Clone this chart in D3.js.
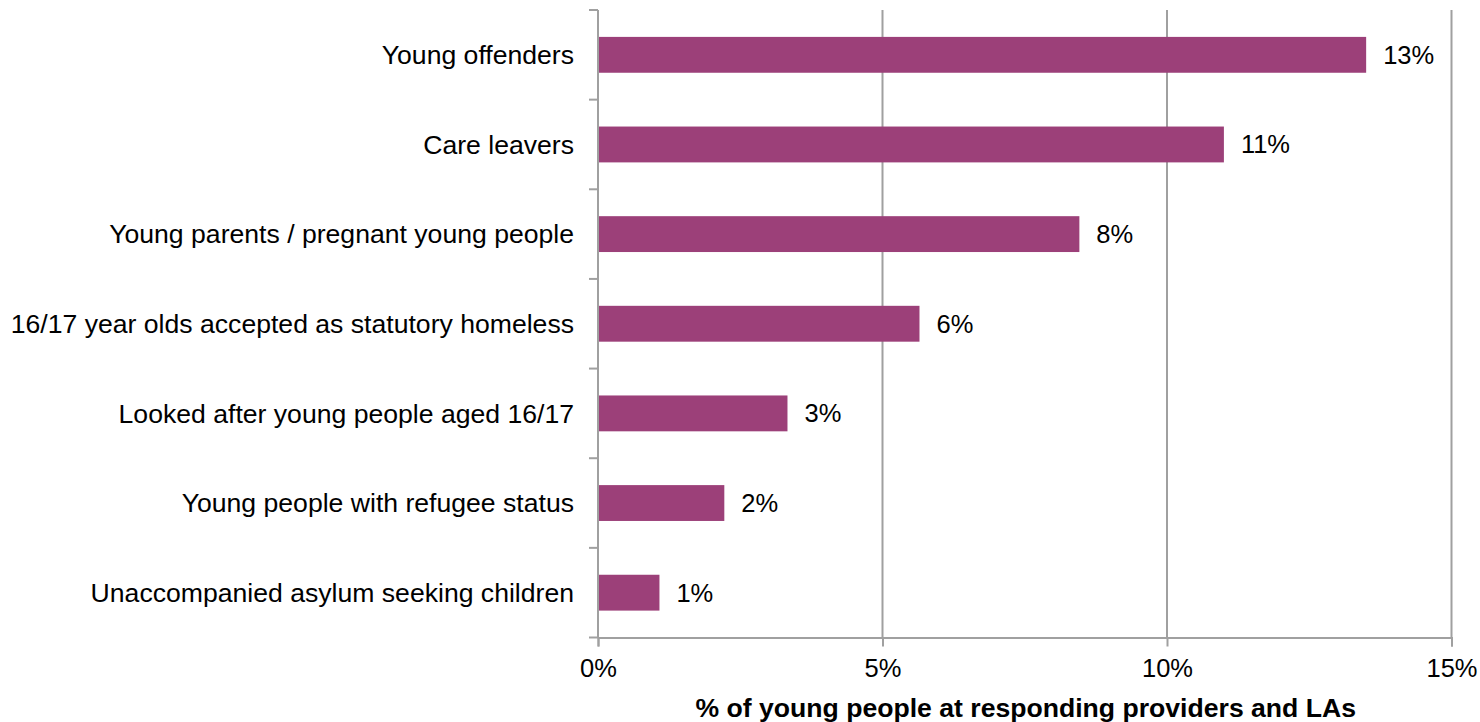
<!DOCTYPE html>
<html>
<head>
<meta charset="utf-8">
<script src="https://cdn.jsdelivr.net/npm/d3@7"></script>
<style>
  html, body { margin: 0; padding: 0; background: #fff; }
  svg { display: block; }
  text { font-family: "Liberation Sans", Arial, sans-serif; fill: #000; }
</style>
</head>
<body>
<svg id="chart" width="1480" height="722"></svg>
<script>
// Share of young people in each group (%)
const categories = [
  "Young offenders",
  "Care leavers",
  "Young parents / pregnant young people",
  "16/17 year olds accepted as statutory homeless",
  "Looked after young people aged 16/17",
  "Young people with refugee status",
  "Unaccompanied asylum seeking children"
];
const values = [13.5, 11.0, 8.46, 5.65, 3.33, 2.22, 1.08];
const valueLabels = ["13%", "11%", "8%", "6%", "3%", "2%", "1%"];
const xTicks = [0, 5, 10, 15];
const xTitle = "% of young people at responding providers and LAs";

const svg = d3.select("#chart");
const plot = { left: 598, right: 1451.5, top: 10, bottom: 637.5 };

const x = d3.scaleLinear().domain([0, 15]).range([plot.left, plot.right]);
const y = d3.scaleBand().domain(categories).range([plot.top, plot.bottom]).paddingInner(0.6).paddingOuter(0.3);

// vertical gridlines
svg.append("g").selectAll("line")
  .data(xTicks.filter(d => d > 0))
  .join("line")
  .attr("x1", d => x(d)).attr("x2", d => x(d))
  .attr("y1", plot.top).attr("y2", plot.bottom)
  .attr("stroke", "#a0a0a0").attr("stroke-width", 2);

// bars
svg.append("g").selectAll("rect")
  .data(values)
  .join("rect")
  .attr("x", x(0))
  .attr("y", (d, i) => y(categories[i]))
  .attr("width", d => x(d) - x(0))
  .attr("height", y.bandwidth())
  .attr("fill", "#9c4079");

// value labels
svg.append("g").selectAll("text")
  .data(values)
  .join("text")
  .attr("x", d => x(d) + 17)
  .attr("y", (d, i) => y(categories[i]) + y.bandwidth() / 2)
  .attr("dy", "0.35em")
  .attr("font-size", 25.5)
  .text((d, i) => valueLabels[i]);

// category axis
const step = (plot.bottom - plot.top) / categories.length;
const yAxisG = svg.append("g");
yAxisG.append("line")
  .attr("x1", plot.left).attr("x2", plot.left).attr("y1", plot.top).attr("y2", plot.bottom)
  .attr("stroke", "#a0a0a0").attr("stroke-width", 2);
yAxisG.selectAll("line.tick")
  .data(d3.range(categories.length + 1))
  .join("line").attr("class", "tick")
  .attr("x1", plot.left - 9).attr("x2", plot.left)
  .attr("y1", i => plot.top + i * step).attr("y2", i => plot.top + i * step)
  .attr("stroke", "#a0a0a0").attr("stroke-width", 2);
yAxisG.selectAll("text")
  .data(categories)
  .join("text")
  .attr("x", plot.left - 24)
  .attr("y", d => y(d) + y.bandwidth() / 2)
  .attr("dy", "0.35em")
  .attr("text-anchor", "end")
  .attr("font-size", 26.6)
  .text(d => d);

// value axis
const xAxisG = svg.append("g").attr("transform", `translate(0,${plot.bottom})`)
  .call(d3.axisBottom(x).tickValues(xTicks).tickFormat(d => d + "%").tickSize(9).tickPadding(12));
xAxisG.select(".domain").attr("stroke", "#a0a0a0").attr("stroke-width", 2);
xAxisG.selectAll(".tick line").attr("stroke", "#a0a0a0").attr("stroke-width", 2);
xAxisG.selectAll(".tick text")
  .attr("font-size", 25.5)
  .attr("font-family", "Liberation Sans, Arial, sans-serif")
  .attr("fill", "#000");

svg.append("text")
  .attr("x", (plot.left + plot.right) / 2 + 1)
  .attr("y", 717)
  .attr("text-anchor", "middle")
  .attr("font-size", 26.6)
  .attr("font-weight", "bold")
  .text(xTitle);
</script>
</body>
</html>
